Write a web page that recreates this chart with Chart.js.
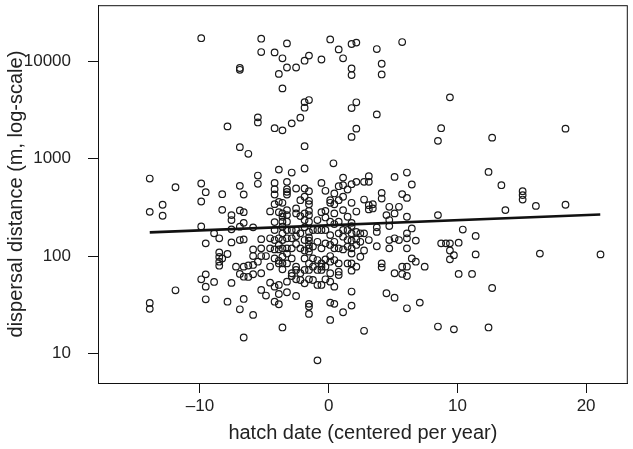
<!DOCTYPE html>
<html>
<head>
<meta charset="utf-8">
<script src="https://cdn.jsdelivr.net/npm/chart.js@4.4.0/dist/chart.umd.min.js"></script>
<style>
  html, body { margin: 0; padding: 0; background: #fff; }
  #wrap { width: 633px; height: 449px; }
</style>
</head>
<body>
<div id="wrap"><canvas id="scatterChart"></canvas></div>
<script>
// Hatch date columns (centered per year) and the dispersal distances (m) seen at each one
const hatchDates = [
  -13.9, -12.9, -11.9, -9.9, -9.55, -8.9, -8.5, -8.27, -7.86, -7.55, -7.2, -6.9, -6.6, -6.24,
  -5.87, -5.5, -5.24, -4.87, -4.55, -4.2, -3.87, -3.59, -3.24, -2.87, -2.53, -2.2, -1.87,
  -1.53, -1.22, -0.87, -0.56, -0.25, 0.12, 0.37, 0.44, 0.78, 1.12, 1.47, 1.78, 2.15, 2.46,
  2.75, 3.12, 3.43, 3.74, 4.12, 4.49, 4.71, 5.12, 5.46, 5.71, 6.08, 6.46, 6.77, 7.08, 7.46,
  8.49, 8.74, 9.11, 9.42, 9.73, 10.1, 10.42, 11.14, 11.42, 12.42, 12.7, 13.42, 13.73, 15.07,
  16.1, 16.41, 18.4, 21.12
];
const distances = [
  [624, 284, 33, 28.7],
  [336, 259],
  [508, 44.5],
  [17200, 555, 363, 201, 57.7],
  [452, 135, 64.9, 48.5, 36],
  [171, 54.2],
  [152, 109, 98, 87.5, 79.6],
  [431, 298, 94.6],
  [2140, 105, 34],
  [263, 234, 188, 138, 53],
  [77.8],
  [8500, 8150, 1310, 525, 294, 200, 146, 65.5, 28.4],
  [428, 282, 219, 148, 77.8, 61.4, 36.3, 14.6],
  [1120, 80, 61],
  [197, 117, 100, 81, 65, 24.9],
  [2650, 2350, 670, 551, 87.5],
  [17000, 12400, 149, 120, 100, 66.6, 44.9],
  [100, 39.3],
  [287, 152, 120, 78, 53.3],
  [12300, 2050, 563, 486, 428, 341, 223, 185, 146, 117, 94.6, 48.5, 34],
  [7400, 771, 360, 282, 152, 130, 117, 89.6, 84, 50.5, 40.8, 32],
  [10700, 5250, 1950, 352, 274, 253, 225, 200, 171, 146, 120, 98.4, 84.1, 73, 18.5],
  [15200, 8600, 577, 485, 456, 428, 296, 263, 225, 185, 152, 120, 106, 84, 54.6, 42.5],
  [2300, 719, 185, 152, 120, 94.6, 66.6, 62.4],
  [8600, 493, 308, 274, 185, 160, 133, 77.8, 72, 57.7, 38.9],
  [2630, 374, 257, 171, 120, 66.6, 56.8],
  [10100, 3800, 3330, 1340, 791, 493, 406, 274, 234, 197, 146, 114, 94.6, 72, 52.5],
  [11400, 3990, 463, 369, 340, 291, 263, 225, 177, 155, 144, 130, 120, 111, 84, 72, 57.7, 32.3, 30.3, 25.5],
  [185, 125, 94.6, 77.8, 56.8],
  [234, 185, 140, 91, 72, 50.5, 8.5],
  [10400, 563, 282, 185, 120, 84, 77.8, 72, 50.5],
  [467, 291, 249, 185, 135, 92.5, 77.8, 57.7],
  [16700, 374, 352, 225, 164, 130, 100, 87.5, 66.6, 54.6, 33.3, 22.1],
  [895],
  [439, 340, 274, 213, 140, 120, 91, 48.5, 32.3],
  [13200, 521, 374, 225, 171, 120, 84, 69.2, 63.8],
  [10700, 638, 533, 406, 296, 185, 158, 117, 26.5],
  [482, 253, 185, 146, 125, 84],
  [15000, 8400, 7200, 3300, 1670, 546, 352, 219, 203, 171, 144, 120, 106, 84, 70.8, 43.2, 31],
  [15500, 3780, 2030, 577, 286, 177, 148, 130, 77.8],
  [171, 140, 98.4],
  [577, 380, 171, 114, 17.1],
  [659, 577, 333, 301, 146],
  [340, 308],
  [13300, 2840, 197, 177, 126],
  [9400, 7300, 445, 389, 84, 76.6],
  [263, 41.5],
  [320, 234, 203, 146, 120],
  [649, 274, 152, 66.6, 37.4],
  [320, 146],
  [15700, 432, 77.8, 65.5],
  [719, 395, 253, 171, 152, 120, 77.8, 62.4, 29.1],
  [542, 192, 94.6],
  [144, 87.5],
  [33.3],
  [77.8],
  [1520, 263, 18.9],
  [2050, 135],
  [135],
  [4250, 135, 114, 92.5],
  [102, 17.7],
  [137, 65.5],
  [187],
  [65.5],
  [161, 104],
  [729, 18.5],
  [1640, 47],
  [533],
  [296],
  [463, 422, 380],
  [327],
  [106],
  [2030, 336],
  [104]
];

// Fitted regression line (ends)
const fitX = [-13.9, 21.1];
const fitY = [175, 267];

const xTicks = [-10, 0, 10, 20];
const yTicks = [10, 100, 1000, 10000];

const points = [];
hatchDates.forEach((x, i) => distances[i].forEach(y => points.push({ x: x, y: y })));
const fitLine = fitX.map((x, i) => ({ x: x, y: fitY[i] }));

// Box round the plot area, as in the original figure
const frame = {
  id: 'frame',
  afterDraw(chart) {
    const { ctx, chartArea: a } = chart;
    ctx.save();
    ctx.strokeStyle = '#111';
    ctx.lineWidth = 1;
    ctx.strokeRect(a.left + 0.5, a.top + 0.5, a.right - a.left - 1, a.bottom - a.top);
    ctx.restore();
  }
};

const tickFont = { family: '"Liberation Sans Narrow", "Liberation Sans", Arial, sans-serif', size: 17 };
const titleFont = { family: '"Liberation Sans", Arial, sans-serif', size: 20 };

new Chart(document.getElementById('scatterChart'), {
  type: 'scatter',
  data: {
    datasets: [{
      type: 'line',
      data: fitLine,
      borderColor: '#111',
      borderWidth: 2.6,
      pointRadius: 0,
      fill: false,
      order: 0
    }, {
      data: points,
      pointRadius: 3.3,
      pointBorderWidth: 1.2,
      borderColor: '#1a1a1a',
      backgroundColor: 'rgba(0,0,0,0)',
      order: 1
    }]
  },
  options: {
    responsive: true,
    maintainAspectRatio: false,
    animation: false,
    events: [],
    layout: { padding: { top: 5, right: 2, left: 0, bottom: 0 } },
    plugins: { legend: { display: false }, tooltip: { enabled: false } },
    scales: {
      x: {
        type: 'linear',
        min: -17.92,
        max: 23.24,
        afterBuildTicks: s => { s.ticks = xTicks.map(v => ({ value: v })); },
        afterFit: s => { s.height = 66; s.paddingLeft = 0; s.paddingRight = 0; },
        grid: { drawOnChartArea: false, drawTicks: true, tickLength: 10, color: '#111' },
        border: { display: true, color: '#111' },
        ticks: {
          color: '#222', font: tickFont, padding: 3, maxRotation: 0,
          callback: v => (v < 0 ? '\u2013' + Math.abs(v) : String(v))
        },
        title: { display: true, text: 'hatch date (centered per year)', color: '#222', font: titleFont, padding: { top: 0, bottom: 4 } }
      },
      y: {
        type: 'logarithmic',
        min: 4.98,
        max: 37500,
        afterBuildTicks: s => { s.ticks = yTicks.map(v => ({ value: v })); },
        afterFit: s => { s.width = 98; s.paddingTop = 0; s.paddingBottom = 0; },
        grid: { drawOnChartArea: false, drawTicks: true, tickLength: 10, color: '#111' },
        border: { display: true, color: '#111' },
        ticks: { color: '#222', font: tickFont, padding: 17, callback: v => String(v) },
        title: { display: true, text: 'dispersal distance (m, log-scale)', color: '#222', font: titleFont, padding: { top: 4, bottom: 0 } }
      }
    }
  },
  plugins: [frame]
});
</script>
</body>
</html>
